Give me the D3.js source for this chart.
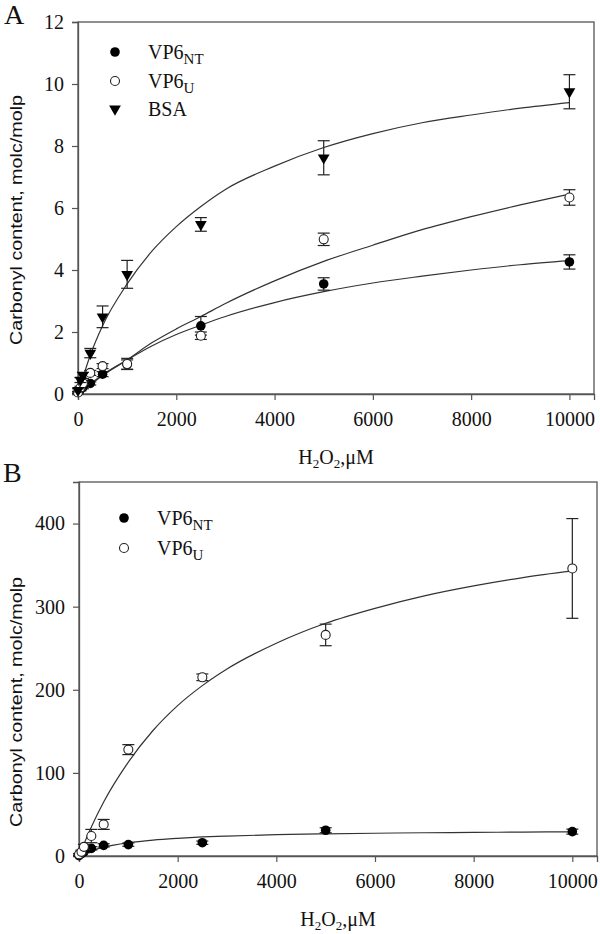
<!DOCTYPE html>
<html><head><meta charset="utf-8">
<script src="https://cdn.jsdelivr.net/npm/d3@7"></script>
<style>body{margin:0;background:#fff}svg{display:block}</style>
</head><body>
<script>
// ---------- data ----------
const xDoses = [0, 50, 100, 250, 500, 1000, 2500, 5000, 10000];
const xTicks = [0, 2000, 4000, 6000, 8000, 10000];
const yTicksA = [0, 2, 4, 6, 8, 10, 12];
const yTicksB = [0, 100, 200, 300, 400];

// Panel A
const aNT = [0.05, 0.15, 0.22, 0.34, 0.64, 0.95, 2.2, 3.55, 4.26];
const aNTerr = [0.03, 0.05, 0.05, 0.05, 0.08, 0.15, 0.3, 0.2, 0.23];
const aU = [0.05, 0.2, 0.35, 0.68, 0.9, 0.97, 1.88, 4.99, 6.34];
const aUerr = [0.03, 0.05, 0.05, 0.08, 0.08, 0.18, 0.12, 0.2, 0.25];
const aBSA = [0.12, 0.45, 0.6, 1.32, 2.49, 3.86, 5.47, 7.62, 9.75];
const aBSAerr = [0.05, 0.08, 0.1, 0.15, 0.35, 0.45, 0.22, 0.55, 0.55];

// Panel B
const bNT = [0.5, 3, 5, 9.2, 12.8, 13.7, 16, 31, 29.3];
const bNTerr = [0.5, 1, 1, 2, 2, 2, 2, 3, 3];
const bU = [2, 5, 11, 24, 38, 128, 215, 266, 346];
const bUerr = [1, 2, 3, 8, 6, 6, 4, 13, 60];

// fitted curves
const fitX = [0, 250, 500, 1000, 1500, 2000, 2500, 3000, 4000, 5000, 6000, 7000, 8000, 9000, 10000];
const fitA_BSA = [0, 1.25, 2.2, 3.55, 4.6, 5.4, 6.05, 6.6, 7.35, 7.95, 8.4, 8.75, 9.0, 9.22, 9.4];
const fitA_U = [0, 0.3, 0.6, 1.1, 1.65, 2.1, 2.5, 2.92, 3.65, 4.28, 4.8, 5.3, 5.72, 6.1, 6.45];
const fitA_NT = [0, 0.32, 0.62, 1.1, 1.55, 1.92, 2.22, 2.5, 2.95, 3.3, 3.58, 3.8, 4.0, 4.17, 4.3];
const fitB_U = [0, 35, 65, 113, 151, 181, 205, 225, 256, 280, 298, 313, 325, 335, 343];
const fitB_NT = [0, 6.4, 10.7, 16, 19.2, 21.3, 22.9, 24, 25.6, 26.7, 27.4, 28, 28.4, 28.8, 29.1];

// ---------- drawing ----------
const W = 600, H = 934;
const svg = d3.select("body").append("svg").attr("width", W).attr("height", H);
const serif = "'Liberation Serif','Times New Roman',serif";

function panel(cfg) {
  const g = svg.append("g");
  const x = d3.scaleLinear().domain([0, 10500]).range([cfg.left, cfg.right]);
  const y = d3.scaleLinear().domain(cfg.yDomain).range([cfg.bottom, cfg.top]);

  // frame
  g.append("rect").attr("x", cfg.left).attr("y", cfg.top)
    .attr("width", cfg.right - cfg.left).attr("height", cfg.bottom - cfg.top)
    .attr("fill", "none").attr("stroke", "#555").attr("stroke-width", 1.3);

  // axes
  const ax = g.append("g").attr("transform", `translate(0,${cfg.bottom})`)
    .call(d3.axisBottom(x).tickValues(xTicks).tickSize(6).tickPadding(12).tickFormat(d3.format("d")));
  const ay = g.append("g").attr("transform", `translate(${cfg.left},0)`)
    .call(d3.axisLeft(y).tickValues(cfg.yTicks).tickSize(6).tickPadding(8).tickFormat(d3.format("d")));
  [ax, ay].forEach(a => {
    a.select(".domain").attr("stroke", "#555").attr("stroke-width", 1.3);
    a.selectAll(".tick line").attr("stroke", "#555").attr("stroke-width", 1.2);
    a.selectAll("text").attr("font-family", serif).attr("font-size", 20).attr("fill", "#111");
  });

  // curves
  const line = d3.line().x(d => x(d[0])).y(d => y(d[1])).curve(d3.curveMonotoneX);
  cfg.fits.forEach(f => {
    g.append("path").datum(fitX.map((v, i) => [v, f[i]]))
      .attr("d", line).attr("fill", "none").attr("stroke", "#333").attr("stroke-width", 1.2);
  });

  // series
  cfg.series.forEach(s => {
    const pts = xDoses.map((v, i) => ({ x: v, y: s.vals[i], e: s.err[i] }));
    const eg = g.append("g");
    pts.forEach(p => {
      const px = x(p.x), y0 = y(p.y - p.e), y1 = y(p.y + p.e);
      eg.append("line").attr("x1", px).attr("x2", px).attr("y1", y0).attr("y2", y1).attr("stroke", "#222").attr("stroke-width", 1.2);
      [y0, y1].forEach(yy => eg.append("line").attr("x1", px - 6).attr("x2", px + 6).attr("y1", yy).attr("y2", yy).attr("stroke", "#222").attr("stroke-width", 1.2));
    });
    pts.forEach(p => marker(g, s.type, x(p.x), y(p.y)));
  });

  // legend
  cfg.series.forEach((s, i) => {
    const ly = cfg.legY[i];
    marker(g, s.type, cfg.legX, ly);
    const t = g.append("text").attr("x", cfg.legX + 33).attr("y", ly + 7)
      .attr("font-family", serif).attr("font-size", 20).attr("fill", "#111");
    t.append("tspan").text(s.name);
    if (s.sub) t.append("tspan").attr("font-size", 15).attr("dy", 5).text(s.sub);
  });

  // panel letter
  g.append("text").attr("x", cfg.letterX).attr("y", cfg.letterY).attr("font-family", serif)
    .attr("font-size", 28).attr("fill", "#111").text(cfg.letter);

  // x title
  const xt = g.append("text").attr("x", (cfg.left + cfg.right) / 2).attr("y", cfg.xTitleY)
    .attr("text-anchor", "middle").attr("font-family", serif).attr("font-size", 20).attr("fill", "#111");
  xt.append("tspan").text("H");
  xt.append("tspan").attr("font-size", 13).attr("dy", 4).text("2");
  xt.append("tspan").attr("dy", -4).text("O");
  xt.append("tspan").attr("font-size", 13).attr("dy", 4).text("2");
  xt.append("tspan").attr("dy", -4).text(",μM");

  // y title
  g.append("text").attr("transform", `translate(${cfg.yTitleX},${cfg.yTitleY}) rotate(-90)`)
    .attr("text-anchor", "middle").attr("font-family", "'Liberation Sans Narrow','Liberation Sans',Arial,sans-serif")
    .attr("font-size", 17).attr("fill", "#111")
    .attr("textLength", 250).attr("lengthAdjust", "spacingAndGlyphs")
    .text("Carbonyl content, molc/molp");
}

function marker(g, type, cx, cy) {
  if (type === "filled") {
    g.append("circle").attr("cx", cx).attr("cy", cy).attr("r", 4.8).attr("fill", "#000");
  } else if (type === "open") {
    g.append("circle").attr("cx", cx).attr("cy", cy).attr("r", 4.5).attr("fill", "#fff").attr("stroke", "#222").attr("stroke-width", 1.1);
  } else {
    g.append("path").attr("d", d3.symbol().type(d3.symbolTriangle).size(60)())
      .attr("transform", `translate(${cx},${cy}) rotate(180)`).attr("fill", "#000");
  }
}

panel({
  left: 78, right: 594, top: 22, bottom: 394,
  yDomain: [0, 12], yTicks: yTicksA,
  fits: [fitA_BSA, fitA_U, fitA_NT],
  series: [
    { name: "VP6", sub: "NT", type: "filled", vals: aNT, err: aNTerr },
    { name: "VP6", sub: "U", type: "open", vals: aU, err: aUerr },
    { name: "BSA", sub: "", type: "tri", vals: aBSA, err: aBSAerr }
  ],
  legX: 115, legY: [52, 81, 109],
  letter: "A", letterX: 4, letterY: 24,
  xTitleY: 464, yTitleX: 22, yTitleY: 220
});

panel({
  left: 79, right: 597, top: 482, bottom: 856,
  yDomain: [0, 450], yTicks: yTicksB,
  fits: [fitB_U, fitB_NT],
  series: [
    { name: "VP6", sub: "NT", type: "filled", vals: bNT, err: bNTerr },
    { name: "VP6", sub: "U", type: "open", vals: bU, err: bUerr }
  ],
  legX: 124, legY: [518, 548],
  letter: "B", letterX: 3, letterY: 482,
  xTitleY: 926, yTitleX: 22, yTitleY: 702
});
</script>
</body></html>
